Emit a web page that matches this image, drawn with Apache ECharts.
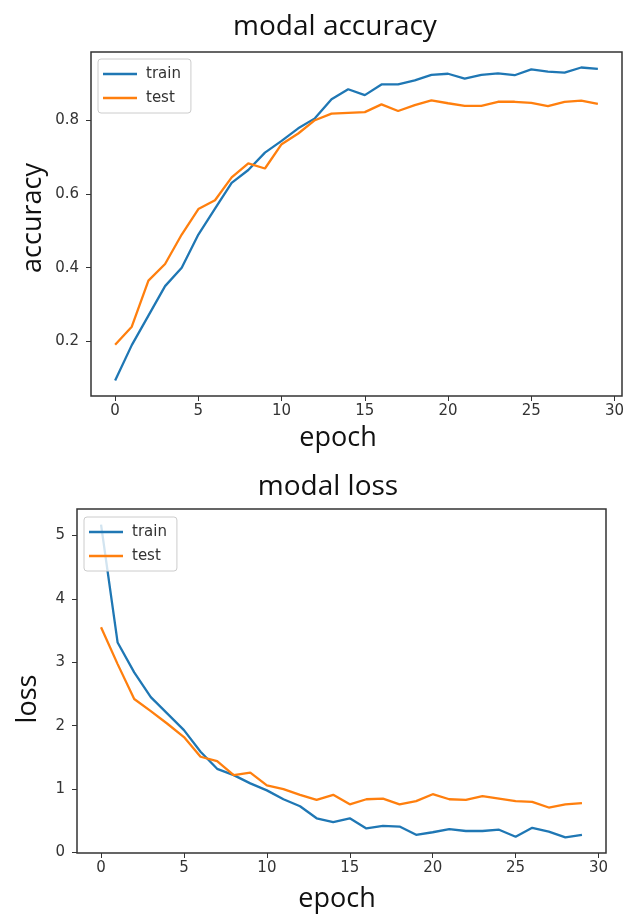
<!DOCTYPE html>
<html>
<head>
<meta charset="utf-8">
<script src="https://cdn.jsdelivr.net/npm/echarts@6/dist/echarts.min.js"></script>
<style>
html,body{margin:0;padding:0;background:#fff;}
#chart{width:636px;height:916px;}
</style>
</head>
<body>
<div id="chart"></div>
<script>
var epochs = [0,1,2,3,4,5,6,7,8,9,10,11,12,13,14,15,16,17,18,19,20,21,22,23,24,25,26,27,28,29];
var accTrain = [0.094,0.19,0.27,0.35,0.40,0.49,0.56,0.63,0.665,0.712,0.744,0.778,0.805,0.857,0.884,0.868,0.897,0.897,0.908,0.923,0.926,0.913,0.923,0.927,0.922,0.938,0.932,0.929,0.943,0.939];
var accTest = [0.191,0.24,0.365,0.41,0.49,0.559,0.583,0.645,0.683,0.669,0.735,0.764,0.80,0.818,0.82,0.822,0.843,0.825,0.841,0.854,0.846,0.839,0.839,0.85,0.85,0.847,0.838,0.85,0.853,0.844];
var lossTrain = [5.17,3.31,2.84,2.45,2.19,1.93,1.59,1.32,1.22,1.09,0.98,0.84,0.73,0.54,0.48,0.54,0.38,0.42,0.41,0.28,0.32,0.37,0.34,0.34,0.36,0.25,0.39,0.33,0.24,0.28];
var lossTest = [3.55,2.97,2.42,2.23,2.03,1.82,1.51,1.44,1.22,1.26,1.06,1.0,0.91,0.83,0.91,0.76,0.84,0.85,0.76,0.81,0.92,0.84,0.83,0.89,0.85,0.81,0.80,0.71,0.76,0.78];
var xTicks = [0,5,10,15,20,25,30];
var accTicks = [0.2,0.4,0.6,0.8];
var lossTicks = [0,1,2,3,4,5];
var seriesNames = ['train','test'];
var titles = ['modal accuracy','modal loss'];
var xName = 'epoch';
var yNames = ['accuracy','loss'];

function pairs(ys){ return epochs.map(function(e,i){ return [e, ys[i]]; }); }

var BLUE = '#1f77b4', ORANGE = '#ff7f0e';
var AX = '#333333';
var tickFont = {fontFamily:'DejaVu Sans', fontSize:15, color:'#333'};
var bigFont = 'Open Sans';

function xAxisCfg(gi){
  return {type:'value', gridIndex:gi, min:-1.45, max:30.45,
    axisLine:{show:false, onZero:false}, splitLine:{show:false},
    axisTick:{show:true, length:5, lineStyle:{color:AX, width:1}, customValues:xTicks},
    axisLabel:Object.assign({margin:8, customValues:xTicks, formatter:function(v){return String(v);}}, tickFont)};
}
function yAxisCfg(gi, mn, mx, ticks){
  return {type:'value', gridIndex:gi, min:mn, max:mx,
    axisLine:{show:false, onZero:false}, splitLine:{show:false},
    axisTick:{show:true, length:5, lineStyle:{color:AX, width:1}, customValues:ticks},
    axisLabel:Object.assign({margin:12, customValues:ticks, formatter:function(v){return String(v);}}, tickFont)};
}
function lineSeries(name, data, color, gi){
  return {type:'line', name:name, xAxisIndex:gi, yAxisIndex:gi, data:pairs(data),
    showSymbol:false, symbol:'none', lineStyle:{color:color, width:2.3}, itemStyle:{color:color}, animation:false};
}
function legendCfg(left, top){
  return {orient:'vertical', left:left, top:top, data:seriesNames, icon:'rect',
    itemWidth:34, itemHeight:2.5, itemGap:8, selectedMode:false,
    padding:[7,10,7,5], borderColor:'#cccccc', borderWidth:1, borderRadius:3,
    backgroundColor:'rgba(255,255,255,0.8)',
    textStyle:{fontFamily:'DejaVu Sans', fontSize:15, color:'#333', padding:[0,0,0,4], lineHeight:16}};
}

var chart = echarts.init(document.getElementById('chart'), null, {renderer:'canvas'});
chart.setOption({
  animation:false,
  backgroundColor:'#ffffff',
  grid:[
    {left:91, top:52, width:531, height:344, show:true, borderColor:AX, borderWidth:1.5, backgroundColor:'transparent'},
    {left:77, top:509, width:529, height:344, show:true, borderColor:AX, borderWidth:1.5, backgroundColor:'transparent'}
  ],
  xAxis:[xAxisCfg(0), xAxisCfg(1)],
  yAxis:[yAxisCfg(0, 0.052, 0.985, accTicks), yAxisCfg(1, -0.007, 5.415, lossTicks)],
  legend:[legendCfg(98, 59), legendCfg(84, 517)],
  series:[
    lineSeries(seriesNames[0], accTrain, BLUE, 0),
    lineSeries(seriesNames[1], accTest, ORANGE, 0),
    lineSeries(seriesNames[0], lossTrain, BLUE, 1),
    lineSeries(seriesNames[1], lossTest, ORANGE, 1)
  ],
  graphic:[
    {type:'text', x:335, y:27, style:{text:titles[0], font:'28px "'+bigFont+'"', fill:'#111', align:'center', verticalAlign:'middle'}},
    {type:'text', x:338, y:438, style:{text:xName, font:'27px "'+bigFont+'"', fill:'#111', align:'center', verticalAlign:'middle'}},
    {type:'text', x:328, y:487, style:{text:titles[1], font:'28px "'+bigFont+'"', fill:'#111', align:'center', verticalAlign:'middle'}},
    {type:'text', x:337, y:899, style:{text:xName, font:'27px "'+bigFont+'"', fill:'#111', align:'center', verticalAlign:'middle'}},
    {type:'text', x:33, y:218, rotation:Math.PI/2, style:{text:yNames[0], font:'27px "'+bigFont+'"', fill:'#111', align:'center', verticalAlign:'middle'}},
    {type:'text', x:28, y:699, rotation:Math.PI/2, style:{text:yNames[1], font:'27px "'+bigFont+'"', fill:'#111', align:'center', verticalAlign:'middle'}}
  ]
});
</script>
</body>
</html>
